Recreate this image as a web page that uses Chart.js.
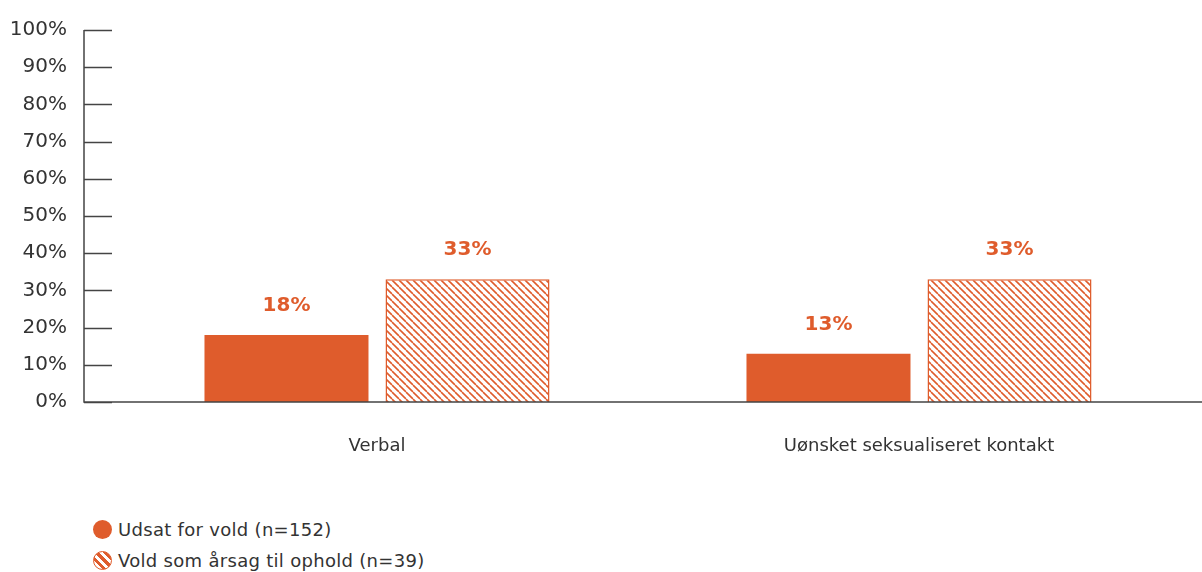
<!DOCTYPE html>
<html>
<head>
<meta charset="utf-8">
<script src="https://cdn.jsdelivr.net/npm/chart.js@4"></script>
<style>
  html, body { margin: 0; padding: 0; background: #fff; overflow: hidden; }
  #wrap { position: relative; width: 1202px; height: 572px; overflow: hidden; font-family: "DejaVu Sans", sans-serif; }
  #chart { position: absolute; left: 0; top: -21px; }
  .legend { position: absolute; left: 93px; color: #333; font-size: 18px; letter-spacing: 0.3px; display: flex; align-items: center; }
  .dot { width: 19px; height: 19px; border-radius: 50%; margin-right: 6px; box-sizing: border-box; }
  .solid { background: #DF5C2C; }
  .hatch { border: 1.5px solid #DF5C2C;
    background: repeating-linear-gradient(45deg, #DF5C2C 0 3px, #fff 3px 6px); }
</style>
</head>
<body>
<div id="wrap">
  <canvas id="chart" width="1202" height="501"></canvas>
  <div class="legend" style="top:519px"><span class="dot solid"></span>Udsat for vold (n=152)</div>
  <div class="legend" style="top:550px"><span class="dot hatch"></span>Vold som årsag til ophold (n=39)</div>
</div>
<script>
const categories = ['Verbal', 'Uønsket seksualiseret kontakt']
const seriesNames = ['Udsat for vold (n=152)', 'Vold som årsag til ophold (n=39)']
const exposedValues = [18, 13]
const causeValues = [33, 33]
const yTicks = [0, 10, 20, 30, 40, 50, 60, 70, 80, 90, 100]

const orange = '#DF5C2C'
const axisColor = '#444'
const fontFamily = '"DejaVu Sans", sans-serif'

const makeHatch = () => {
    const size = 7
    const c = document.createElement('canvas')
    c.width = size
    c.height = size
    const g = c.getContext('2d')
    g.fillStyle = '#fff'
    g.fillRect(0, 0, size, size)
    g.strokeStyle = orange
    g.lineWidth = 1.6
    for (const x0 of [-size, 0, size]) {
        g.beginPath()
        g.moveTo(x0, 0)
        g.lineTo(x0 + size, size)
        g.stroke()
    }
    return g.createPattern(c, 'repeat')
}

const axesPlugin = {
    id: 'axesPlugin',
    afterDraw(chart) {
        const { ctx, scales: { y } } = chart
        const axisX = 84
        ctx.save()
        ctx.strokeStyle = axisColor
        ctx.lineWidth = 1.5
        ctx.beginPath()
        ctx.moveTo(axisX, y.getPixelForValue(100))
        ctx.lineTo(axisX, y.getPixelForValue(0))
        ctx.lineTo(1202, y.getPixelForValue(0))
        yTicks.forEach(t => {
            const py = Math.round(y.getPixelForValue(t)) + 0.5
            ctx.moveTo(axisX, py)
            ctx.lineTo(112, py)
        })
        ctx.stroke()
        ctx.restore()
    }
}

const labelPlugin = {
    id: 'labelPlugin',
    afterDatasetsDraw(chart) {
        const { ctx } = chart
        ctx.save()
        ctx.fillStyle = orange
        ctx.font = 'bold 20px ' + fontFamily
        ctx.textAlign = 'center'
        ctx.textBaseline = 'middle'
        chart.data.datasets.forEach((ds, i) => {
            chart.getDatasetMeta(i).data.forEach((bar, j) => {
                ctx.fillText(ds.data[j] + '%', bar.x, bar.y - 29)
            })
        })
        ctx.restore()
    }
}

new Chart(document.getElementById('chart').getContext('2d'), {
    type: 'bar',
    data: {
        labels: categories,
        datasets: [
            { label: seriesNames[0], data: exposedValues, backgroundColor: orange, borderWidth: 0 },
            { label: seriesNames[1], data: causeValues, backgroundColor: makeHatch(), borderColor: orange, borderWidth: 1.5 }
        ]
    },
    options: {
        responsive: false,
        animation: false,
        categoryPercentage: 0.668,
        barPercentage: 0.906,
        layout: { padding: { top: 7, right: 12 } },
        plugins: { legend: { display: false }, tooltip: { enabled: false } },
        scales: {
            x: {
                grid: { display: false },
                border: { display: false },
                ticks: { color: '#333', font: { size: 18, family: fontFamily }, padding: 26 },
                afterFit: (s) => { s.height = 78 }
            },
            y: {
                min: 0,
                max: 100,
                grid: { display: false, drawTicks: false },
                border: { display: false },
                ticks: {
                    stepSize: 10,
                    color: '#333',
                    padding: 39,
                    font: { size: 20, family: fontFamily },
                    callback: (v) => v + '%'
                },
                afterFit: (s) => { s.width = 106 }
            }
        }
    },
    plugins: [axesPlugin, labelPlugin]
})
</script>
</body>
</html>
